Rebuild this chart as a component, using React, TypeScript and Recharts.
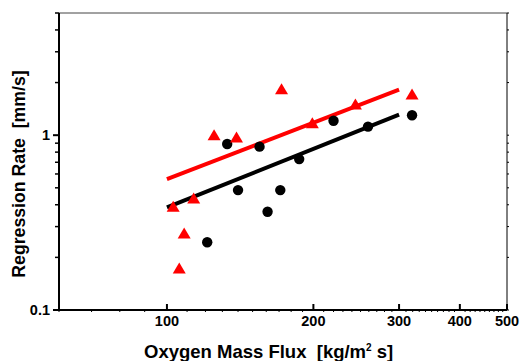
import { ComposedChart, Scatter, Line, XAxis, YAxis, Label } from "recharts";

// oxidizer mass flux [kg/m2 s] vs regression rate [mm/s]
const triFlux = [103, 106, 108.5, 113.5, 125, 139, 172, 199, 244, 319];
const triRate = [0.39, 0.173, 0.274, 0.435, 1.0, 0.97, 1.83, 1.17, 1.5, 1.71];

const dotFlux = [121, 133, 140, 155, 161, 171, 187, 220, 259, 319];
const dotRate = [0.244, 0.89, 0.485, 0.86, 0.365, 0.485, 0.73, 1.21, 1.12, 1.3];

const redFitFlux = [100, 300];
const redFitRate = [0.56, 1.82];
const blackFitFlux = [100, 300];
const blackFitRate = [0.386, 1.31];

const xMajor = [100, 200, 300, 400, 500];
const xTicks = [
  60, 70, 80, 90, 100, 110, 120, 130, 140, 150, 160, 170, 180, 190, 200, 210, 220, 230, 240, 250,
  260, 270, 280, 290, 300, 310, 320, 330, 340, 350, 360, 370, 380, 390, 400, 410, 420, 430, 440,
  450, 460, 470, 480, 490, 500,
];
const yMajor = [0.1, 1];
const yTicks = [0.1, 0.2, 0.3, 0.4, 0.5, 0.6, 0.7, 0.8, 0.9, 1, 2, 3, 4, 5];

const toPoints = (xs: number[], ys: number[]) => xs.map((x, i) => ({ x, y: ys[i] }));
const triangles = toPoints(triFlux, triRate);
const dots = toPoints(dotFlux, dotRate);
const redFit = toPoints(redFitFlux, redFitRate);
const blackFit = toPoints(blackFitFlux, blackFitRate);

const FONT = "'Liberation Sans', Arial, sans-serif";

function Triangle(props: any) {
  const { cx, cy } = props;
  return (
    <polygon
      points={`${cx},${cy - 6} ${cx + 6.5},${cy + 5} ${cx - 6.5},${cy + 5}`}
      fill="#ff0000"
    />
  );
}

function Dot(props: any) {
  return <circle cx={props.cx} cy={props.cy} r={5.2} fill="#000" />;
}

function BottomTick({ x, y, payload }: any) {
  const major = xMajor.includes(payload.value);
  return (
    <g>
      {major ? (
        <line x1={x} x2={x} y1={y} y2={y - 6} stroke="#000" strokeWidth={2} />
      ) : (
        <line x1={x} x2={x} y1={y} y2={y + 2} stroke="#000" strokeWidth={1} />
      )}
      {major && (
        <text x={x} y={y + 16} textAnchor="middle" fontFamily={FONT} fontWeight="bold" fontSize={14.5} fill="#000">
          {payload.value}
        </text>
      )}
    </g>
  );
}

function TopTick({ x, y }: any) {
  return <line x1={x} x2={x} y1={y} y2={y + 1.5} stroke="#000" strokeWidth={1} />;
}

function LeftTick({ x, y, payload }: any) {
  const major = yMajor.includes(payload.value);
  return (
    <g>
      <line x1={x} x2={x - (major ? 6 : 4)} y1={y} y2={y} stroke="#000" strokeWidth={major ? 2 : 1.5} />
      {major && (
        <text x={x - 9} y={y + 5} textAnchor="end" fontFamily={FONT} fontWeight="bold" fontSize={14.5} fill="#000">
          {payload.value}
        </text>
      )}
    </g>
  );
}

function RightTick({ x, y }: any) {
  return <line x1={x} x2={x + 2} y1={y} y2={y} stroke="#000" strokeWidth={1} />;
}

function XTitle() {
  return (
    <text x={144} y={358} fontFamily={FONT} fontWeight="bold" fontSize={18.5} fill="#000">
      Oxygen Mass Flux{"\u00a0\u00a0"}[kg/m
      <tspan dy={-7} fontSize={10}>2</tspan>
      <tspan dy={7}>{"\u00a0"}s]</tspan>
    </text>
  );
}

function YTitle() {
  return (
    <text
      x={25}
      y={174}
      transform="rotate(-90 25 174)"
      textAnchor="middle"
      fontFamily={FONT}
      fontWeight="bold"
      fontSize={17.7}
      fill="#000"
    >
      Regression Rate{"\u00a0\u00a0"}[mm/s]
    </text>
  );
}

export default function App() {
  return (
    <div style={{ position: "absolute", left: 0, top: 0, width: 520, height: 361, background: "#fff" }}>
      <ComposedChart width={520} height={361} margin={{ top: 12, right: 12, bottom: 0, left: 0 }}>
        <XAxis
          xAxisId="bottom"
          dataKey="x"
          type="number"
          scale="log"
          domain={[60, 500]}
          allowDataOverflow
          ticks={xTicks}
          interval={0}
          tickSize={0}
          tickMargin={0}
          tick={<BottomTick />}
          axisLine={{ stroke: "#000", strokeWidth: 2 }}
          height={51}
        >
          <Label content={<XTitle />} />
        </XAxis>
        <XAxis
          xAxisId="top"
          orientation="top"
          type="number"
          scale="log"
          domain={[60, 500]}
          allowDataOverflow
          ticks={xTicks}
          interval={0}
          tickSize={0}
          tickMargin={0}
          tick={<TopTick />}
          axisLine={{ stroke: "#444", strokeWidth: 1 }}
          height={1}
        />
        <YAxis
          yAxisId="left"
          dataKey="y"
          type="number"
          scale="log"
          domain={[0.1, 5]}
          allowDataOverflow
          ticks={yTicks}
          interval={0}
          tickSize={0}
          tickMargin={0}
          tick={<LeftTick />}
          axisLine={{ stroke: "#000", strokeWidth: 2 }}
          width={59}
        >
          <Label content={<YTitle />} />
        </YAxis>
        <YAxis
          yAxisId="right"
          orientation="right"
          type="number"
          scale="log"
          domain={[0.1, 5]}
          allowDataOverflow
          ticks={yTicks}
          interval={0}
          tickSize={0}
          tickMargin={0}
          tick={<RightTick />}
          axisLine={{ stroke: "#000", strokeWidth: 1 }}
          width={1}
        />
        <Line
          xAxisId="bottom"
          yAxisId="left"
          data={blackFit}
          dataKey="y"
          stroke="#000"
          strokeWidth={4}
          dot={false}
          activeDot={false}
          isAnimationActive={false}
        />
        <Line
          xAxisId="bottom"
          yAxisId="left"
          data={redFit}
          dataKey="y"
          stroke="#ff0000"
          strokeWidth={4}
          dot={false}
          activeDot={false}
          isAnimationActive={false}
        />
        <Scatter
          xAxisId="bottom"
          yAxisId="left"
          data={dots}
          dataKey="y"
          shape={<Dot />}
          isAnimationActive={false}
        />
        <Scatter
          xAxisId="bottom"
          yAxisId="left"
          data={triangles}
          dataKey="y"
          shape={<Triangle />}
          isAnimationActive={false}
        />
      </ComposedChart>
    </div>
  );
}
